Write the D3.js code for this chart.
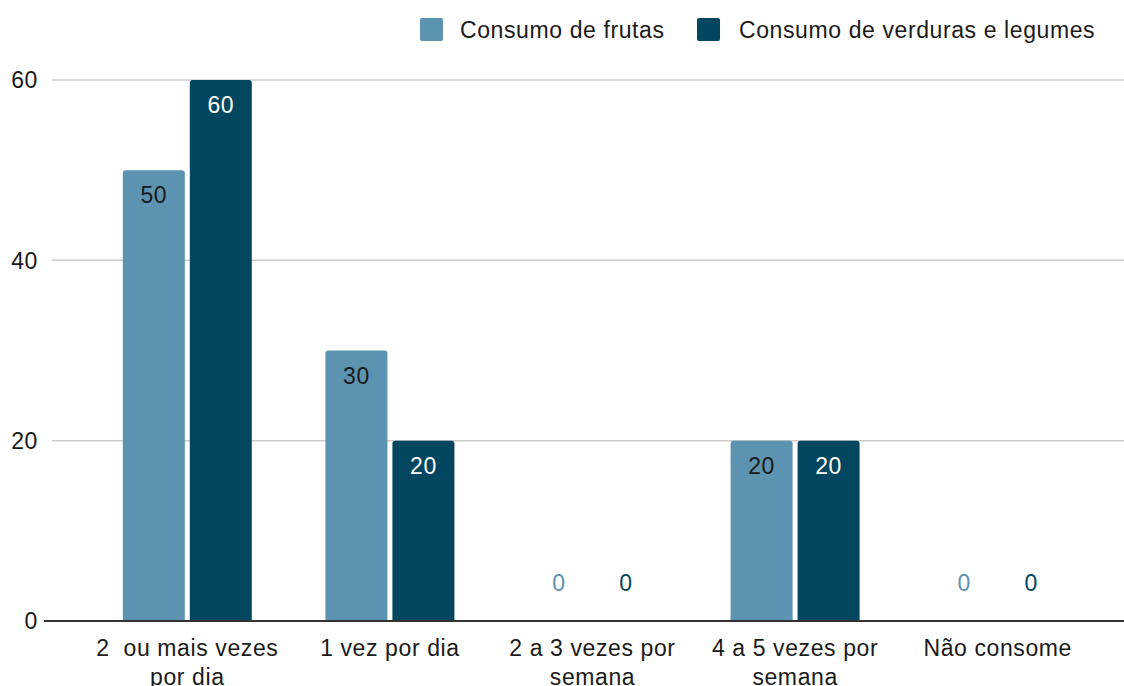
<!DOCTYPE html>
<html><head><meta charset="utf-8">
<script src="https://cdn.jsdelivr.net/npm/d3@7"></script>
<style>body{margin:0;background:#fff}svg{display:block;font-family:"Liberation Sans",Arial,sans-serif}text{white-space:pre;letter-spacing:0.6px}</style>
</head><body><svg id="c" width="1124" height="686"></svg>
<script>
const categories = [["2  ou mais vezes","por dia"],["1 vez por dia"],["2 a 3 vezes por","semana"],["4 a 5 vezes por","semana"],["Não consome"]];
const seriesNames = ["Consumo de frutas","Consumo de verduras e legumes"];
const frutas = [50,30,0,20,0];
const verduras = [60,20,0,20,0];
const yTicks = [0,20,40,60];
const colors = ["#5b93b0","#02475f"];
const labelColors = ["#1a1a1a","#ffffff"];
const FS = 23;

const svg = d3.select("#c");
const x = d3.scaleBand().domain(d3.range(categories.length)).range([86,1099]).paddingInner(0).paddingOuter(0);
const y = d3.scaleLinear().domain([0,60]).range([621,80]);
const barW = 62, gap = 5;

// grid
svg.append("g").selectAll("line").data(yTicks.filter(d=>d>0)).join("line")
  .attr("x1",52).attr("x2",1124).attr("y1",d=>y(d)).attr("y2",d=>y(d))
  .attr("stroke","#cccccc").attr("stroke-width",1.5);
svg.append("g").selectAll("text").data(yTicks).join("text")
  .attr("x",38).attr("y",d=>y(d)).attr("dy","0.36em").attr("text-anchor","end")
  .attr("font-size",FS).attr("fill","#1a1a1a").text(d=>d);

const data = [frutas, verduras];
data.forEach((vals,s)=>{
  const g = svg.append("g");
  vals.forEach((v,i)=>{
    const cx = x(i)+x.bandwidth()/2;
    const x0 = s===0 ? cx - gap/2 - barW : cx + gap/2;
    if(v>0){
      const top=y(v), bot=y(0), r=3;
      g.append("path").attr("fill",colors[s])
        .attr("d",`M${x0},${bot}V${top+r}Q${x0},${top} ${x0+r},${top}H${x0+barW-r}Q${x0+barW},${top} ${x0+barW},${top+r}V${bot}Z`);
      g.append("text").attr("x",x0+barW/2).attr("y",top+25).attr("dy","0.36em")
        .attr("text-anchor","middle").attr("font-size",FS).attr("fill",labelColors[s]).text(v);
    } else {
      g.append("text").attr("x",x0+barW/2).attr("y",y(0)-38).attr("dy","0.36em")
        .attr("text-anchor","middle").attr("font-size",FS).attr("fill",colors[s]).text(v);
    }
  });
});

// baseline
svg.append("line").attr("x1",44).attr("x2",1124).attr("y1",y(0)).attr("y2",y(0))
  .attr("stroke","#333").attr("stroke-width",2);

// x labels
const xl = svg.append("g").selectAll("text").data(categories).join("text")
  .attr("text-anchor","middle").attr("font-size",FS).attr("fill","#1a1a1a");
xl.each(function(lines,i){
  const t=d3.select(this);
  lines.forEach((ln,k)=>t.append("tspan").attr("x",x(i)+x.bandwidth()/2).attr("y",648+k*29).attr("dy","0.36em").text(ln));
});

// legend
const leg = [{x:420,tx:460},{x:697,tx:739}];
seriesNames.forEach((n,s)=>{
  svg.append("rect").attr("x",leg[s].x).attr("y",18).attr("width",23).attr("height",23).attr("rx",2).attr("fill",colors[s]);
  svg.append("text").attr("x",leg[s].tx).attr("y",29.5).attr("dy","0.36em").attr("font-size",FS).attr("fill","#1a1a1a").text(n);
});
</script></body></html>
